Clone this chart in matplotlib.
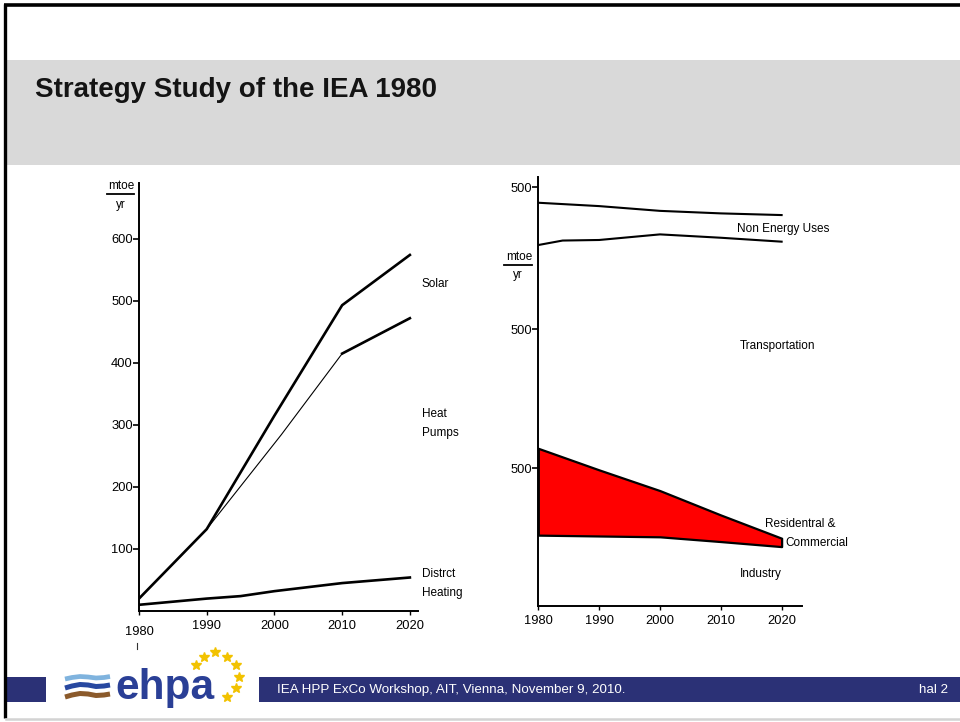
import matplotlib
matplotlib.use('Agg')
import matplotlib.pyplot as plt
from matplotlib.patches import Rectangle

plt.rcParams['font.family'] = ['Liberation Sans', 'DejaVu Sans']

# ---------------- data: left chart (mtoe/yr) ----------------
left_xticks = [1980, 1990, 2000, 2010, 2020]
left_xlabels = ['', '1990', '2000', '2010', '2020']   # 1980 drawn separately (sits lower)
left_yticks = [100, 200, 300, 400, 500, 600]
solar_years = [1980, 1990, 2000, 2010, 2020]
solar_vals = [20, 132, 315, 493, 574]
hp_years = [1980, 1990, 2001, 2010, 2020]
hp_vals = [20, 132, 284, 415, 472]
dh_years = [1980, 1990, 1995, 2000, 2010, 2020]
dh_vals = [10, 20, 24, 32, 45, 54]

# ---------------- data: right chart (stacked, arbitrary scale) ----------------
right_xticks = [1980, 1990, 2000, 2010, 2020]
right_ytick_pos = [490, 987, 1494]
right_ytick_labels = ['500', '500', '500']
neu_top_years = [1980, 1990, 2000, 2010, 2020]
neu_top_vals = [1439, 1427, 1410, 1401, 1395]
neu_low_years = [1980, 1984, 1990, 2000, 2010, 2020]
neu_low_vals = [1288, 1304, 1306, 1326, 1314, 1300]
rc_years = [1980, 1990, 2000, 2010, 2020]
rc_top = [562, 485, 411, 324, 241]
rc_bottom = [252, 249, 246, 229, 211]

W, H = 960, 722
fig = plt.figure(figsize=(9.6, 7.22), dpi=100)
fig.patch.set_facecolor('white')


def fpos(x0, y0, x1, y1):
    return [x0 / W, 1 - y1 / H, (x1 - x0) / W, (y1 - y0) / H]


bg = fig.add_axes([0, 0, 1, 1], zorder=0)
bg.set_xlim(0, W)
bg.set_ylim(H, 0)
bg.axis('off')

# slide frame
bg.plot([4, 960], [5, 5], color='black', lw=2.6, solid_capstyle='butt')
bg.plot([5, 5], [4, 718], color='black', lw=2.4, solid_capstyle='butt')
bg.plot([6, 960], [718.5, 718.5], color='#d3d3d3', lw=1.8)

# header band
bg.add_patch(Rectangle((7, 60), 953, 105, facecolor='#d9d9d9', edgecolor='none'))
bg.text(35, 97, 'Strategy Study of the IEA 1980', fontsize=20, fontweight='bold',
        color='#141414', va='baseline', ha='left')

# footer bands
navy = '#2b3176'
bg.add_patch(Rectangle((7, 677), 39, 25, facecolor=navy, edgecolor='none'))
bg.add_patch(Rectangle((259, 677), 701, 25, facecolor=navy, edgecolor='none'))
bg.text(277, 690, 'IEA HPP ExCo Workshop, AIT, Vienna, November 9, 2010.', color='white',
        fontsize=9.6, va='center', ha='left')
bg.text(948, 690, 'hal 2', color='white', fontsize=9.6, va='center', ha='right')

# logo (decorative)
bg.plot([65, 72, 80, 88, 96, 104, 110], [679, 677.5, 676.5, 677, 678, 677.5, 676.5],
        color='#7fb3de', lw=3.4, solid_capstyle='butt')
bg.plot([65, 72, 80, 88, 96, 104, 110], [688, 686, 684.5, 685, 686.5, 686, 685],
        color='#2848a0', lw=3.6, solid_capstyle='butt')
bg.plot([65, 72, 80, 88, 96, 104, 110], [697, 695, 693.5, 694, 695.5, 695, 694],
        color='#8b5a2b', lw=3.6, solid_capstyle='butt')
bg.text(115, 699, 'ehpa', fontsize=30.5, fontweight='bold', color='#2a3f96',
        va='baseline', ha='left')
star_x = [196, 204, 215, 227, 236, 239, 236, 227]
star_y = [665, 657, 652, 657, 665, 677, 688, 697]
bg.plot(star_x, star_y, ls='none', marker='*', ms=7.5, color='#f2c200', mec='#f2c200')
bg.plot([137, 137], [643, 649], color='#333333', lw=0.8)

txt = dict(fontsize=8.5, color='black', va='center', ha='left')

# ---------------- left chart ----------------
axL = fig.add_axes(fpos(139, 183, 418, 611), zorder=1)
axL.patch.set_alpha(0)
axL.set_xlim(1980, 2021.2)
axL.set_ylim(0, 690)
for s in ['top', 'right']:
    axL.spines[s].set_visible(False)
for s in ['left', 'bottom']:
    axL.spines[s].set_linewidth(1.4)
axL.set_xticks(left_xticks)
axL.set_xticklabels(left_xlabels)
axL.set_yticks(left_yticks)
axL.set_yticklabels([str(v) for v in left_yticks])
axL.tick_params(axis='y', direction='out', length=4, width=1.2, pad=0.5, labelsize=9.3)
axL.tick_params(axis='x', direction='out', length=3, width=1.0, pad=3.5, labelsize=9.3)

axL.plot(solar_years, solar_vals, color='black', lw=1.9, solid_joinstyle='miter')
axL.plot(hp_years, hp_vals, color='black', lw=0.8)
axL.plot(hp_years[3:], hp_vals[3:], color='black', lw=1.9)
axL.plot(dh_years, dh_vals, color='black', lw=1.9)

bg.text(139.5, 632, '1980', fontsize=9.3, ha='center', va='center')
bg.text(121, 186, 'mtoe', fontsize=8.5, ha='center', va='center')
bg.plot([107, 134], [194, 194], color='black', lw=1.3)
bg.text(121, 205, 'yr', fontsize=8.5, ha='center', va='center')

bg.text(422, 284, 'Solar', **txt)
bg.text(422, 414, 'Heat', **txt)
bg.text(422, 433, 'Pumps', **txt)
bg.text(422, 574, 'Distrct', **txt)
bg.text(422, 593, 'Heating', **txt)

# ---------------- right chart ----------------
axR = fig.add_axes(fpos(538.3, 176.7, 801.7, 605.7), zorder=1)
axR.patch.set_alpha(0)
axR.set_xlim(1980, 2023.3)
axR.set_ylim(0, 1532)
for s in ['top', 'right']:
    axR.spines[s].set_visible(False)
for s in ['left', 'bottom']:
    axR.spines[s].set_linewidth(1.4)
axR.set_xticks(right_xticks)
axR.set_xticklabels([str(v) for v in right_xticks])
axR.set_yticks(right_ytick_pos)
axR.set_yticklabels(right_ytick_labels)
axR.tick_params(axis='y', direction='out', length=4, width=1.2, pad=0.5, labelsize=9.3)
axR.tick_params(axis='x', direction='out', length=3, width=1.0, pad=3.5, labelsize=9.3)

axR.plot(neu_top_years, neu_top_vals, color='black', lw=1.5)
axR.plot(neu_low_years, neu_low_vals, color='black', lw=1.5)
axR.fill_between(rc_years, rc_bottom, rc_top, facecolor='#ff0000', edgecolor='black',
                 linewidth=1.6)

bg.text(519, 257, 'mtoe', fontsize=8.5, ha='center', va='center')
bg.plot([504, 532], [265, 265], color='black', lw=1.3)
bg.text(518, 275, 'yr', fontsize=8.5, ha='center', va='center')

bg.text(737, 229, 'Non Energy Uses', **txt)
bg.text(740, 346, 'Transportation', **txt)
bg.text(765, 524, 'Residentral &', **txt)
bg.text(785, 543, 'Commercial', **txt)
bg.text(740, 574, 'Industry', **txt)

fig.savefig('out.png', dpi=100, facecolor='white')
